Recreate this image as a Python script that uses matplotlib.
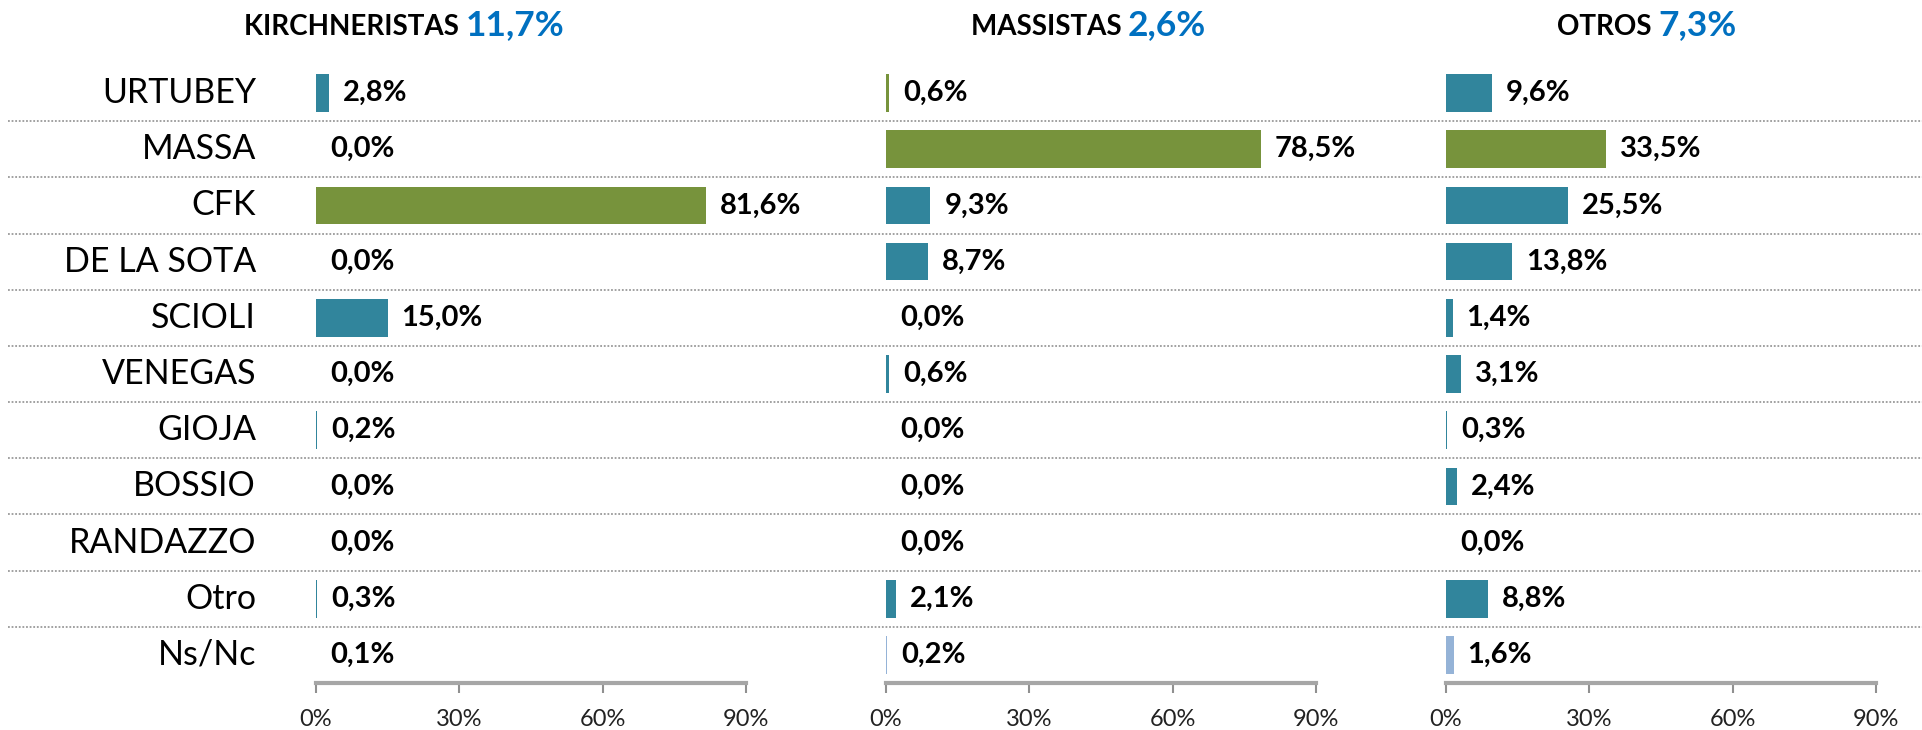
import matplotlib
matplotlib.use("Agg")
import matplotlib.pyplot as plt
import matplotlib.transforms as mtransforms
from matplotlib.lines import Line2D

plt.rcParams['font.family'] = ['Lato', 'DejaVu Sans']

candidatos = ['URTUBEY', 'MASSA', 'CFK', 'DE LA SOTA', 'SCIOLI', 'VENEGAS',
              'GIOJA', 'BOSSIO', 'RANDAZZO', 'Otro', 'Ns/Nc']

grupos = ['KIRCHNERISTAS', 'MASSISTAS', 'OTROS']
grupo_pct = ['11,7%', '2,6%', '7,3%']

kirchneristas = [2.8, 0.0, 81.6, 0.0, 15.0, 0.0, 0.2, 0.0, 0.0, 0.3, 0.1]
massistas = [0.6, 78.5, 9.3, 8.7, 0.0, 0.6, 0.0, 0.0, 0.0, 2.1, 0.2]
otros = [9.6, 33.5, 25.5, 13.8, 1.4, 3.1, 0.3, 2.4, 0.0, 8.8, 1.6]

TEAL = '#31859C'
GREEN = '#77933C'
LIGHT = '#95B3D7'

# which bars are highlighted green in each panel
verdes = [['CFK'], ['URTUBEY', 'MASSA'], ['MASSA']]

series = [kirchneristas, massistas, otros]
ticks = [0, 30, 60, 90]
tick_labels = ['0%', '30%', '60%', '90%']

W, H = 1922, 730
fig = plt.figure(figsize=(W / 100, H / 100), dpi=100)

lefts = [316, 886, 1446]
ax_w = 430
ax_top, ax_bot = 65, 683
title_split = [466, 1128, 1658]

axes = []
for i, vals in enumerate(series):
    ax = fig.add_axes([lefts[i] / W, 1 - ax_bot / H, ax_w / W, (ax_bot - ax_top) / H])
    axes.append(ax)
    y = list(range(len(candidatos)))
    colors = []
    for c in candidatos:
        if c == 'Ns/Nc':
            colors.append(LIGHT)
        elif c in verdes[i]:
            colors.append(GREEN)
        else:
            colors.append(TEAL)
    ax.barh(y, vals, height=0.67, color=colors)
    for yy, v in zip(y, vals):
        ax.annotate(f'{v:.1f}%'.replace('.', ','), (v, yy), xytext=(10, 0),
                    textcoords='offset points', va='center', ha='left',
                    fontsize=21, fontweight='bold', color='black')
    ax.set_xlim(0, 90)
    ax.set_ylim(10.5, -0.5)
    ax.set_yticks([])
    ax.set_xticks(ticks)
    ax.set_xticklabels(tick_labels, fontsize=17, color='#222222')
    ax.tick_params(axis='x', length=7, width=1.5, color='#909090', pad=12)
    for s in ['top', 'right', 'left']:
        ax.spines[s].set_visible(False)
    ax.spines['bottom'].set_color('#A6A6A6')
    ax.spines['bottom'].set_linewidth(3)
    ax.patch.set_alpha(0)

    # title: group name + share
    fig.text(title_split[i] / W, 1 - 35 / H, grupos[i] + ' ', ha='right', va='baseline',
             fontsize=20, fontweight='bold', color='black')
    fig.text(title_split[i] / W, 1 - 35 / H, grupo_pct[i], ha='left', va='baseline',
             fontsize=25.5, fontweight='bold', color='#0070C0')

# row labels
ax1 = axes[0]
trans = mtransforms.blended_transform_factory(fig.transFigure, ax1.transData)
for yy, c in enumerate(candidatos):
    fig.text(256 / W, yy, c, transform=trans, ha='right', va='center',
             fontsize=24.5, color='black')

# dotted separators across the whole width
for k in range(len(candidatos) - 1):
    fig.add_artist(Line2D([8 / W, 1], [k + 0.5, k + 0.5], transform=trans,
                          color='#9A9A9A', lw=1.3, linestyle=(0, (1, 1))))

fig.savefig('out.png', dpi=100)
